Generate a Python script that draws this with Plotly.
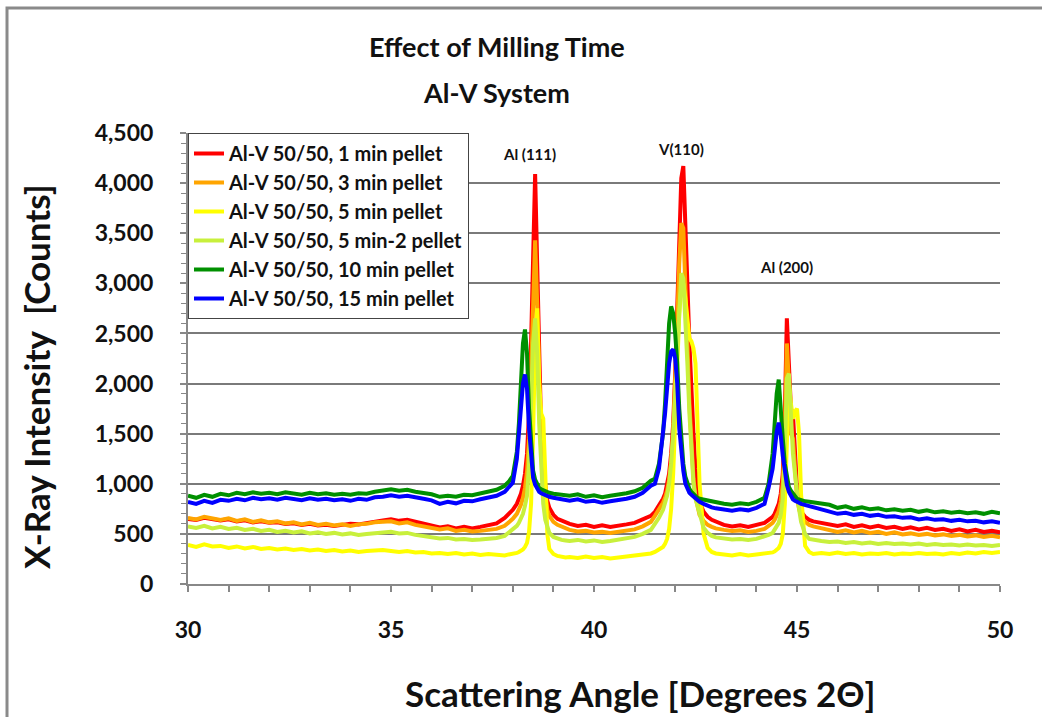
import plotly.graph_objects as go

# ---------------- data ----------------
two_theta = [
    30.0, 30.2, 30.4, 30.6, 30.8, 31.0, 31.2, 31.4, 31.6, 31.8,
    32.0, 32.2, 32.4, 32.6, 32.8, 33.0, 33.2, 33.4, 33.6, 33.8,
    34.0, 34.2, 34.4, 34.6, 34.8, 35.0, 35.2, 35.4, 35.6, 35.8,
    36.0, 36.2, 36.4, 36.6, 36.8, 37.0, 37.2, 37.4, 37.6,
    37.8, 37.9, 38.0, 38.1, 38.15, 38.2, 38.25, 38.3, 38.35, 38.4, 38.45, 38.5,
    38.55, 38.6, 38.65, 38.7, 38.75, 38.8, 38.85, 38.9, 39.0, 39.1, 39.2, 39.3,
    39.4, 39.6, 39.8, 40.0, 40.2, 40.4, 40.6, 40.8, 41.0, 41.2, 41.4,
    41.5, 41.6, 41.7, 41.75, 41.8, 41.85, 41.9, 41.95, 42.0, 42.05, 42.1, 42.15,
    42.2, 42.25, 42.3, 42.35, 42.4, 42.45, 42.5, 42.55, 42.6, 42.7, 42.8, 42.9, 43.0,
    43.2, 43.4, 43.6, 43.8, 44.0, 44.2,
    44.3, 44.4, 44.45, 44.5, 44.55, 44.6, 44.65, 44.7, 44.75, 44.8, 44.85, 44.9,
    44.95, 45.0, 45.05, 45.1, 45.2, 45.3, 45.4,
    45.6, 45.8, 46.0, 46.2, 46.4, 46.6, 46.8, 47.0, 47.2, 47.4, 47.6, 47.8,
    48.0, 48.2, 48.4, 48.6, 48.8, 49.0, 49.2, 49.4, 49.6, 49.8, 50.0,
]

red_1min = [
    650, 640, 660, 645, 635, 645, 625, 635, 615, 625, 610, 615, 600, 605, 590, 600, 585, 590, 580,
    590, 600, 595, 610, 625, 635, 645, 630, 640, 620, 600, 585, 565, 575, 555, 570, 555, 570, 585, 605,
    660, 700, 740, 800, 840, 900, 980, 1100, 1300, 1700, 2400, 3400,
    4090, 3200, 2200, 1500, 1150, 950, 830, 760, 690, 650, 630, 610,
    600, 580, 590, 570, 585, 570, 580, 595, 610, 640, 680,
    720, 780, 850, 900, 980, 1100, 1300, 1600, 2100, 2800, 3500, 4050,
    4170, 3700, 3000, 2400, 1900, 1500, 1150, 950, 820, 720, 670, 640, 620,
    590, 575, 585, 570, 585, 610,
    640, 670, 700, 740, 800, 900, 1100, 1700, 2650, 2200, 1750, 1700,
    1300, 950, 800, 720, 670, 640, 625,
    610, 590, 580, 595, 570, 585, 565, 580, 560, 570, 550, 565,
    545, 560, 540, 550, 530, 545, 525, 540, 520, 530, 515,
]

orange_3min = [
    660, 645, 670, 650, 640, 655, 630, 645, 620, 635, 615, 625, 605, 615, 595, 610, 590, 600, 585,
    595, 580, 595, 600, 615, 620, 625, 605, 615, 590, 575, 565, 545, 555, 530, 540, 525, 530, 540, 550,
    580, 610, 650, 700, 740, 790, 860, 960, 1120, 1450, 2100, 2900,
    3430, 2800, 1900, 1300, 1000, 830, 740, 680, 620, 590, 570, 560,
    540, 525, 530, 515, 520, 510, 520, 530, 545, 575, 620,
    680, 740, 810, 860, 930, 1040, 1220, 1500, 1950, 2600, 3200, 3600,
    3550, 3050, 2400, 1800, 1350, 1050, 870, 760, 690, 630, 590, 570, 555,
    540, 530, 535, 520, 530, 550,
    580, 610, 640, 680, 730, 820, 1000, 1450, 2400, 2000, 1500, 1450,
    1150, 860, 750, 680, 620, 590, 575,
    560, 545, 520, 535, 515, 530, 510, 520, 500, 515, 495, 505,
    490, 500, 485, 495, 480, 490, 475, 485, 470, 480, 465,
]

yellow_5min = [
    390, 370, 395, 375, 380, 360, 375, 355, 370, 350, 360, 345, 355, 340, 350, 335, 345, 330, 340,
    325, 335, 320, 330, 335, 340, 330, 320, 330, 315, 320, 305, 310, 300, 310, 295, 305, 290, 300, 290,
    285, 295, 300, 310, 320, 330, 345, 370, 410, 520, 800, 1500,
    2400, 2750, 2000, 1700, 1650, 1100, 500, 350, 300, 280, 270, 265,
    270, 260, 275, 260, 270, 255, 265, 275, 285, 295, 305,
    320, 340, 370, 400, 450, 550, 750, 1100, 1600, 2200, 2700, 2950,
    3000, 2850, 2600, 2450, 2420, 2350, 2200, 1700, 1000, 500, 360, 320, 305,
    295, 285, 300, 285, 295, 300,
    305, 315, 325, 340, 360, 400, 500, 800, 1400, 2000, 1800, 1650,
    1720, 1750, 1500, 900, 380, 320, 300,
    310, 300, 315, 300, 310, 295, 305, 300, 310, 295, 305, 300,
    310, 300, 305, 295, 310, 300, 315, 305, 320, 310, 320,
]

lime_5min_2 = [
    575, 560, 580, 555, 570, 550, 560, 540, 550, 530, 540, 520, 530, 515, 525, 505, 515, 500, 510,
    495, 505, 490, 500, 505, 515, 520, 505, 510, 490, 480, 470, 455, 460, 445, 450, 440, 445, 450, 460,
    480, 510, 540, 580, 610, 650, 700, 780, 880, 1200, 1800, 2400,
    2650, 2300, 1600, 1100, 800, 640, 560, 510, 470, 450, 440, 435,
    430, 440, 425, 435, 420, 430, 440, 450, 470, 500, 540,
    600, 660, 740, 800, 880, 1000, 1200, 1500, 1900, 2400, 2850, 3100,
    3050, 2700, 2200, 1700, 1300, 1000, 850, 780, 680, 560, 510, 480, 465,
    455, 445, 450, 440, 450, 470,
    490, 510, 540, 570, 610, 690, 850, 1300, 2050, 2100, 1600, 1300,
    1100, 900, 750, 620, 500, 450, 440,
    430, 420, 425, 410, 420, 405, 415, 400, 410, 400, 405, 395,
    405, 390, 400, 390, 395, 385, 395, 385, 390, 380, 390,
]

green_10min = [
    880, 860, 890, 870, 900, 885, 910, 895, 915, 900, 910, 895, 915, 905, 890, 910, 895, 905, 890,
    900, 890, 905, 900, 920, 930, 945, 930, 940, 920, 910, 895, 870, 880, 870, 890, 885, 905, 920, 940,
    980, 1020, 1080, 1320, 1600, 2000, 2400, 2540, 2300, 1750, 1350, 1130,
    1040, 990, 960, 945, 935, 925, 915, 910, 900, 895, 890, 885,
    880, 895, 870, 885, 865, 880, 890, 905, 925, 960, 1030,
    1050, 1200, 1500, 1800, 2200, 2600, 2770, 2700, 2500, 2200, 1750, 1400,
    1200, 1070, 1000, 950, 920, 895, 875, 860, 850, 840, 830, 820, 815,
    800, 790, 805, 795, 820, 860,
    1000, 1300, 1600, 1900, 2040, 1800, 1450, 1200, 1050, 970, 930, 905,
    890, 850, 845, 835, 825, 820, 815,
    800, 790, 760, 775, 750, 765, 745, 755, 735, 745, 730, 740,
    720, 735, 715, 725, 710, 720, 705, 715, 700, 720, 705,
]

blue_15min = [
    820, 800, 830, 810, 840, 830, 850, 835, 860, 845, 855, 840, 860, 850, 835, 855, 840, 850, 835,
    845, 830, 850, 840, 865, 870, 885, 870, 880, 860, 850, 835, 800, 820, 805, 830, 825, 845, 860, 880,
    920, 960, 1010, 1250, 1500, 1780, 2000, 2090, 1950, 1550, 1250, 1060,
    990, 950, 920, 905, 895, 885, 875, 870, 860, 850, 845, 840,
    830, 845, 820, 830, 810, 825, 835, 850, 870, 910, 980,
    1000, 1150, 1480, 1700, 1950, 2200, 2320, 2340, 2250, 2000, 1550, 1300,
    1130, 1000, 950, 910, 890, 870, 850, 835, 820, 800, 780, 765, 755,
    740, 730, 745, 735, 760, 800,
    960, 1150, 1330, 1520, 1610, 1480, 1280, 1100, 990, 920, 870, 845,
    830, 815, 810, 800, 790, 780, 770,
    745, 730, 700, 710, 690, 700, 680, 690, 670, 675, 660, 665,
    645, 655, 640, 645, 630, 640, 625, 630, 615, 625, 610,
]

series_names = [
    "Al-V 50/50, 1 min pellet",
    "Al-V 50/50, 3 min pellet",
    "Al-V 50/50, 5 min pellet",
    "Al-V 50/50, 5 min-2 pellet",
    "Al-V 50/50, 10 min pellet",
    "Al-V 50/50, 15 min pellet",
]
series_values = [red_1min, orange_3min, yellow_5min, lime_5min_2, green_10min, blue_15min]
series_colors = ["#ff0000", "#ffa500", "#ffff00", "#c8f03c", "#009000", "#0000ff"]

peak_labels = ["Al (111)", "V(110)", "Al (200)"]
peak_label_x = [38.42, 42.15, 44.74]
peak_label_y = [4290, 4340, 3160]

FONT = "Lato, 'Open Sans', sans-serif"

fig = go.Figure()
for name, vals, col in zip(series_names, series_values, series_colors):
    fig.add_trace(go.Scatter(
        x=two_theta, y=vals, mode="lines", name=name,
        line=dict(color=col, width=4),
    ))

axis_grey = "#888888"
fig.update_layout(
    width=1042, height=717, autosize=False,
    margin=dict(l=188, r=42, t=133, b=133),
    paper_bgcolor="white", plot_bgcolor="white",
    font=dict(family=FONT, color="#111111"),
    showlegend=True,
    legend=dict(
        x=0, y=1, xanchor="left", yanchor="top",
        bgcolor="white", bordercolor="#444444", borderwidth=1,
        font=dict(family=FONT, size=20, color="#111111", weight="bold"),
        itemwidth=30,
    ),
    xaxis=dict(
        range=[30, 50], tick0=30, dtick=5,
        showgrid=False, zeroline=False,
        showline=True, linecolor=axis_grey, linewidth=2,
        ticks="outside", ticklen=6, tickcolor=axis_grey, tickwidth=1.5,
        tickfont=dict(family=FONT, size=23, color="#111111", weight="bold"),
        ticklabelstandoff=18,
        minor=dict(dtick=1, ticks="outside", ticklen=6, tickcolor=axis_grey, tickwidth=1.5, showgrid=False),
    ),
    yaxis=dict(
        range=[0, 4500], tick0=0, dtick=500, tickformat=",d",
        showgrid=True, gridcolor="#7a7a7a", gridwidth=2,
        zeroline=False,
        showline=True, linecolor=axis_grey, linewidth=2,
        ticks="outside", ticklen=6, tickcolor=axis_grey, tickwidth=1.5,
        tickfont=dict(family=FONT, size=23, color="#111111", weight="bold"),
        ticklabelstandoff=22,
        minor=dict(dtick=100, ticks="outside", ticklen=5, tickcolor=axis_grey, tickwidth=1, showgrid=False),
    ),
)

annotations = []
for t, px_, py_ in zip(peak_labels, peak_label_x, peak_label_y):
    annotations.append(dict(
        x=px_, y=py_, xref="x", yref="y", text=t, showarrow=False,
        font=dict(family=FONT, size=15, color="#111111", weight="bold"),
    ))

annotations += [
    dict(x=0.3805, y=1.1907, xref="paper", yref="paper", text="Effect of Milling Time",
         showarrow=False, xanchor="center", yanchor="middle",
         font=dict(family=FONT, size=27, color="#111111", weight="bold")),
    dict(x=0.3805, y=1.0909, xref="paper", yref="paper", text="Al-V System",
         showarrow=False, xanchor="center", yanchor="middle",
         font=dict(family=FONT, size=27, color="#111111", weight="bold")),
    dict(x=0.5567, y=-0.2417, xref="paper", yref="paper", text="Scattering Angle [Degrees 2\u0398]",
         showarrow=False, xanchor="center", yanchor="middle",
         font=dict(family=FONT, size=35, color="#111111", weight="bold")),
    dict(x=-0.1872, y=0.4612, xref="paper", yref="paper", text="X-Ray Intensity  [Counts]",
         showarrow=False, xanchor="center", yanchor="middle", textangle=-90,
         font=dict(family=FONT, size=35, color="#111111", weight="bold")),
]
fig.update_layout(annotations=annotations)

fig.add_shape(type="rect", xref="paper", yref="paper",
              x0=-0.2229, y0=-0.3126, x1=1.0616, y1=1.2772,
              line=dict(color="#8a8a8a", width=3), fillcolor="rgba(0,0,0,0)", layer="below")

fig.write_html("out.html")
